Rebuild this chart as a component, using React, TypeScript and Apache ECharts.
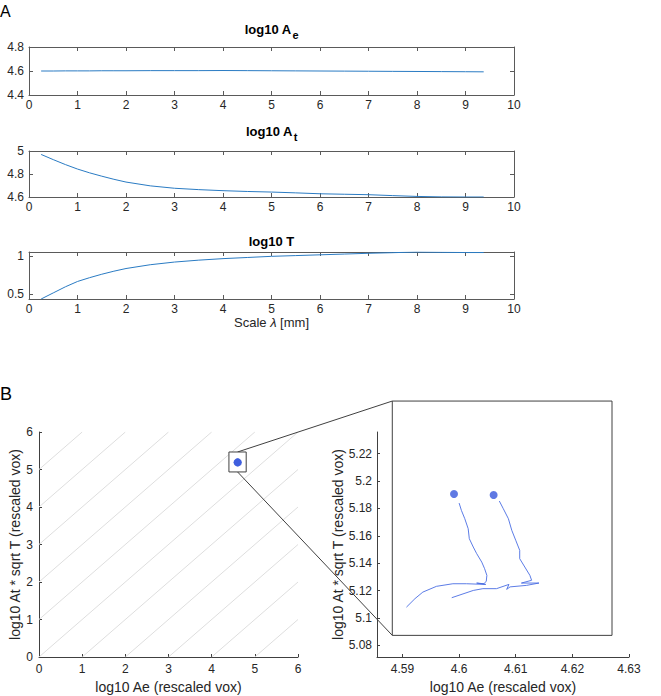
import React, { useEffect, useRef } from "react";
import * as echarts from "echarts";

// ---------- Panel A data ----------
const scales = [0.25, 0.5, 0.75, 1, 1.25, 1.5, 1.75, 2, 2.5, 3, 3.5, 4, 4.5, 5, 5.5, 6, 6.5, 7, 7.5, 8, 8.5, 9, 9.375];
const log10Ae = [4.6, 4.6, 4.601, 4.601, 4.601, 4.602, 4.602, 4.602, 4.603, 4.603, 4.603, 4.604, 4.603, 4.602, 4.601, 4.6, 4.599, 4.598, 4.597, 4.596, 4.595, 4.594, 4.593];
const log10At = [4.97, 4.925, 4.882, 4.843, 4.81, 4.781, 4.754, 4.73, 4.697, 4.676, 4.664, 4.655, 4.648, 4.643, 4.636, 4.628, 4.624, 4.62, 4.612, 4.605, 4.601, 4.6, 4.6];
const log10T = [0.44, 0.52, 0.6, 0.67, 0.72, 0.765, 0.805, 0.84, 0.89, 0.925, 0.95, 0.97, 0.985, 1.0, 1.01, 1.02, 1.03, 1.04, 1.048, 1.057, 1.053, 1.05, 1.05];
const scaleTicks = [0, 1, 2, 3, 4, 5, 6, 7, 8, 9, 10];
const tTicks = [0.5, 1];

// ---------- Panel B data ----------
const traj1X = [4.6, 4.6004, 4.601, 4.6016, 4.6018, 4.6025, 4.6031, 4.604, 4.6045, 4.6049, 4.6048, 4.6044, 4.6031, 4.6047, 4.6013, 4.5989, 4.596, 4.5936, 4.5922, 4.5907];
const traj1Y = [5.1839, 5.1786, 5.1725, 5.1652, 5.1579, 5.1518, 5.147, 5.1408, 5.136, 5.1311, 5.1269, 5.125, 5.1255, 5.1245, 5.125, 5.125, 5.1231, 5.1189, 5.1141, 5.1079];
const traj2X = [4.6071, 4.6078, 4.6087, 4.6093, 4.61, 4.6107, 4.6107, 4.6116, 4.6125, 4.6128, 4.611, 4.6141, 4.6119, 4.609, 4.6084, 4.6088, 4.6066, 4.6042, 4.6025, 4.5987];
const traj2Y = [5.1854, 5.1798, 5.1725, 5.164, 5.1567, 5.1494, 5.1433, 5.1372, 5.1311, 5.1275, 5.1255, 5.1255, 5.1238, 5.1227, 5.1209, 5.1245, 5.1214, 5.1214, 5.1201, 5.1148];
const startX = [4.5991, 4.6061];
const startY = [5.1905, 5.1898];
const diagOffsets = [-5, -4, -3, -2, -1, 0, 1, 2, 3, 4, 5];
const insetXTicks = [4.59, 4.6, 4.61, 4.62, 4.63];
const insetYTicks = [5.08, 5.1, 5.12, 5.14, 5.16, 5.18, 5.2, 5.22];

// annotation boxes (data units)
const zoomBox = { x0: 4.4, x1: 4.8, y0: 4.935, y1: 5.467 };
const insetFrame = { x0: 4.5882, x1: 4.627, y0: 5.0873, y1: 5.2584 };

const FONT = "'Liberation Sans', Arial, Helvetica, sans-serif";
const TXT = "#262626";
const AX = "#5a5a5a";
const LINE_A = "#2a7bc3";
const BLUE = "#3758dc";

function boxX(gridIndex: number, position: string, showLabel: boolean, extra: any = {}) {
  return {
    type: "value",
    gridIndex,
    position,
    min: scaleTicks[0],
    max: scaleTicks[scaleTicks.length - 1],
    interval: 1,
    axisLine: { show: true, onZero: false, lineStyle: { color: AX, width: 1 } },
    axisTick: { show: true, inside: true, length: 4, lineStyle: { color: AX, width: 1 } },
    axisLabel: { show: showLabel, margin: 4, fontSize: 12, color: TXT, fontFamily: FONT },
    splitLine: { show: false },
    ...extra,
  };
}

function boxY(gridIndex: number, position: string, showLabel: boolean, range: any) {
  const base: any = {
    type: "value",
    gridIndex,
    position,
    min: range.min,
    max: range.max,
    axisLine: { show: true, onZero: false, lineStyle: { color: AX, width: 1 } },
    axisTick: { show: true, inside: true, length: 4, lineStyle: { color: AX, width: 1 } },
    axisLabel: { show: showLabel, margin: 5, fontSize: 12, color: TXT, fontFamily: FONT },
    splitLine: { show: false },
  };
  if (range.interval) base.interval = range.interval;
  if (range.custom) {
    base.axisTick.customValues = range.custom;
    base.axisLabel.customValues = range.custom;
  }
  return base;
}

export default function App() {
  const ref = useRef<HTMLDivElement>(null);

  useEffect(() => {
    if (!ref.current) return;
    const chart = echarts.init(ref.current, null, { renderer: "svg" });

    const yRanges = [
      { min: 4.4, max: 4.8, interval: 0.2 },
      { min: 4.6, max: 5, interval: 0.2 },
      { min: 0.44, max: 1.057, custom: tTicks },
    ];

    const xAxes: any[] = [];
    const yAxes: any[] = [];
    for (let i = 0; i < 3; i++) {
      const extra =
        i === 2
          ? {
              name: "Scale {i|λ} [mm]",
              nameLocation: "middle",
              nameGap: 17,
              nameTextStyle: {
                fontSize: 13,
                color: TXT,
                fontFamily: FONT,
                rich: { i: { fontSize: 13, fontStyle: "italic", color: TXT, fontFamily: FONT } },
              },
            }
          : {};
      xAxes.push(boxX(i, "bottom", true, extra));
      xAxes.push(boxX(i, "top", false));
      yAxes.push(boxY(i, "left", true, yRanges[i]));
      yAxes.push(boxY(i, "right", false, yRanges[i]));
    }

    const bAxisCommon = {
      type: "value",
      axisLine: { show: true, onZero: false, lineStyle: { color: "#404040", width: 1 } },
      axisTick: { show: true, inside: true, length: 3, lineStyle: { color: "#404040", width: 1 } },
      splitLine: { show: false },
      nameLocation: "middle",
      nameTextStyle: { fontSize: 14, color: TXT, fontFamily: FONT },
    };

    // B1
    xAxes.push({
      ...bAxisCommon,
      gridIndex: 3,
      min: 0,
      max: 6,
      interval: 1,
      name: "log10 Ae (rescaled vox)",
      nameGap: 23,
      axisLabel: { margin: 6, fontSize: 12, color: TXT, fontFamily: FONT },
    });
    yAxes.push({
      ...bAxisCommon,
      gridIndex: 3,
      min: 0,
      max: 6,
      interval: 1,
      name: "log10 At * sqrt T (rescaled vox)",
      nameGap: 16,
      axisLabel: { margin: 6, fontSize: 12, color: TXT, fontFamily: FONT },
    });
    // B2 inset
    xAxes.push({
      ...bAxisCommon,
      gridIndex: 4,
      min: 4.5855,
      max: 4.63,
      name: "log10 Ae (rescaled vox)",
      nameGap: 23,
      axisTick: { ...bAxisCommon.axisTick, customValues: insetXTicks },
      axisLabel: { margin: 6, fontSize: 12, color: TXT, fontFamily: FONT, customValues: insetXTicks },
    });
    yAxes.push({
      ...bAxisCommon,
      gridIndex: 4,
      min: 5.0715,
      max: 5.2358,
      name: "log10 At * sqrt T (rescaled vox)",
      nameGap: 32,
      axisTick: { ...bAxisCommon.axisTick, customValues: insetYTicks },
      axisLabel: { margin: 5, fontSize: 12, color: TXT, fontFamily: FONT, customValues: insetYTicks },
    });

    const aSeries = [log10Ae, log10At, log10T].map((vals, i) => ({
      type: "line",
      xAxisIndex: 2 * i,
      yAxisIndex: 2 * i,
      data: scales.map((s, j) => [s, vals[j]]),
      showSymbol: false,
      symbol: "none",
      silent: true,
      lineStyle: { color: LINE_A, width: 1 },
    }));

    const diagSeries = diagOffsets.map((c) => ({
      type: "line",
      xAxisIndex: 6,
      yAxisIndex: 6,
      data: [
        [Math.max(0, -c), Math.max(0, c)],
        [Math.min(6, 6 - c), Math.min(6, 6 + c)],
      ],
      showSymbol: false,
      symbol: "none",
      silent: true,
      lineStyle: { color: "#dedede", width: 1 },
      z: 1,
    }));

    const starts = startX.map((x, i) => [x, startY[i]]);

    const mainScatterIndex = aSeries.length + diagSeries.length;
    const series: any[] = [
      ...aSeries,
      ...diagSeries,
      {
        type: "scatter",
        xAxisIndex: 6,
        yAxisIndex: 6,
        data: starts,
        symbolSize: 8,
        itemStyle: { color: BLUE },
        silent: true,
        z: 10,
      },
      {
        type: "line",
        xAxisIndex: 7,
        yAxisIndex: 7,
        data: traj1X.map((x, i) => [x, traj1Y[i]]),
        showSymbol: false,
        symbol: "none",
        silent: true,
        lineStyle: { color: "#4a6de3", width: 0.9 },
      },
      {
        type: "line",
        xAxisIndex: 7,
        yAxisIndex: 7,
        data: traj2X.map((x, i) => [x, traj2Y[i]]),
        showSymbol: false,
        symbol: "none",
        silent: true,
        lineStyle: { color: "#4a6de3", width: 0.9 },
      },
      {
        type: "scatter",
        xAxisIndex: 7,
        yAxisIndex: 7,
        data: starts,
        symbolSize: 8,
        itemStyle: { color: BLUE },
        silent: true,
        z: 10,
      },
    ];
    const insetIndex = mainScatterIndex + 1;

    const titleRich = {
      a: { fontSize: 13, fontWeight: "bold", color: "#000", fontFamily: FONT, verticalAlign: "top", lineHeight: 15 },
      b: { fontSize: 11, fontWeight: "bold", color: "#000", fontFamily: FONT, verticalAlign: "top", lineHeight: 13, padding: [6, 0, 0, 1] },
    };

    chart.setOption({
      animation: false,
      backgroundColor: "#fff",
      textStyle: { fontFamily: FONT },
      title: [
        { text: "{a|log10 A}{b|e}", left: 271.5, top: 23, textAlign: "center", padding: 0, textStyle: { rich: titleRich } },
        { text: "{a|log10 A}{b|t}", left: 271.5, top: 125, textAlign: "center", padding: 0, textStyle: { rich: titleRich } },
        { text: "{a|log10 T}", left: 271.5, top: 235, textAlign: "center", padding: 0, textStyle: { rich: titleRich } },
      ],
      grid: [
        { left: 29, top: 47, width: 485, height: 48 },
        { left: 29, top: 151, width: 485, height: 46 },
        { left: 29, top: 252, width: 485, height: 47 },
        { left: 39, top: 432, width: 259, height: 225 },
        { left: 377, top: 432, width: 252, height: 225 },
      ],
      xAxis: xAxes,
      yAxis: yAxes,
      series,
    });

    const p0 = chart.convertToPixel({ seriesIndex: mainScatterIndex }, [zoomBox.x0, zoomBox.y1]) as number[];
    const p1 = chart.convertToPixel({ seriesIndex: mainScatterIndex }, [zoomBox.x1, zoomBox.y0]) as number[];
    const q0 = chart.convertToPixel({ seriesIndex: insetIndex }, [insetFrame.x0, insetFrame.y1]) as number[];
    const q1 = chart.convertToPixel({ seriesIndex: insetIndex }, [insetFrame.x1, insetFrame.y0]) as number[];
    const midX = (p0[0] + p1[0]) / 2;
    const frameStyle = { stroke: "#404040", lineWidth: 1 };

    chart.setOption({
      graphic: [
        { type: "text", left: 0, top: 3, style: { text: "A", fontSize: 16, fill: "#000", fontFamily: FONT } },
        { type: "text", left: 0, top: 385, style: { text: "B", fontSize: 18, fill: "#000", fontFamily: FONT } },
        { type: "line", z: 4, shape: { x1: midX, y1: p0[1], x2: q0[0], y2: q0[1] }, style: frameStyle, silent: true },
        { type: "line", z: 4, shape: { x1: midX, y1: p1[1], x2: q0[0], y2: q1[1] }, style: frameStyle, silent: true },
        {
          type: "rect",
          z: 5,
          shape: { x: p0[0], y: p0[1], width: p1[0] - p0[0], height: p1[1] - p0[1] },
          style: { fill: "#fff", ...frameStyle },
          silent: true,
        },
        {
          type: "rect",
          z: 4,
          shape: { x: q0[0], y: q0[1], width: q1[0] - q0[0], height: q1[1] - q0[1] },
          style: { fill: "none", ...frameStyle },
          silent: true,
        },
      ],
    });

    return () => chart.dispose();
  }, []);

  return <div ref={ref} style={{ position: "absolute", left: 0, top: 0, width: 661, height: 696 }} />;
}
